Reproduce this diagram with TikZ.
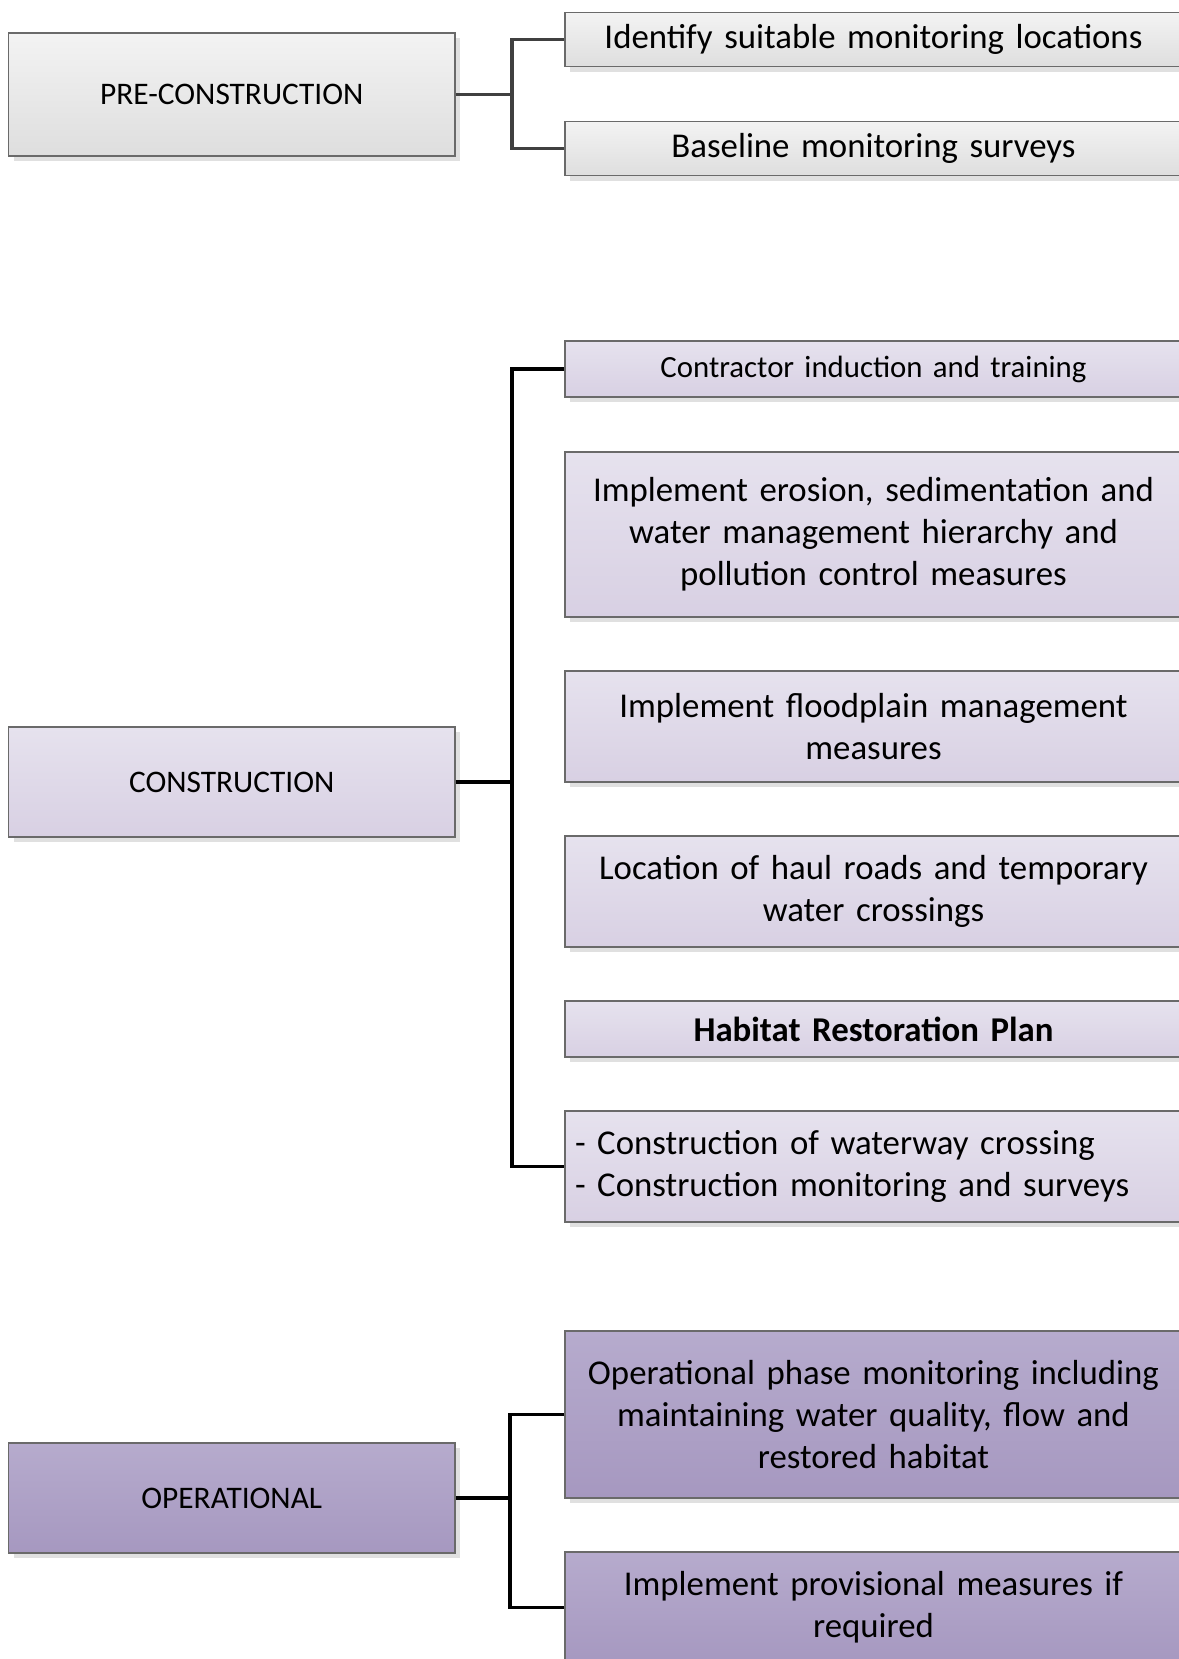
\documentclass[tikz,border=0pt]{standalone}
\usepackage{fontspec}
\setmainfont{Carlito}
\usetikzlibrary{shadows}

\definecolor{pretop}{HTML}{F3F3F3}
\definecolor{prebot}{HTML}{DEDEDE}
\definecolor{contop}{HTML}{E6E2EE}
\definecolor{conbot}{HTML}{D8D0E3}
\definecolor{optop}{HTML}{B6ABCD}
\definecolor{opbot}{HTML}{A698C0}
\definecolor{boxline}{HTML}{6A6A6A}

\tikzset{
  phase/.style={draw=boxline, line width=0.6pt, minimum width=223.25pt,
    inner sep=0pt, font=\fontsize{15.7}{19}\selectfont,
    drop shadow={shadow xshift=2.5pt, shadow yshift=-2.5pt, fill=black!12, opacity=1}},
  task/.style={draw=boxline, line width=0.6pt, text width=298.5pt, inner xsep=5pt,
    inner ysep=0pt, align=center, font=\fontsize{17.4}{21}\selectfont,
    drop shadow={shadow xshift=2.5pt, shadow yshift=-2.5pt, fill=black!12, opacity=1}},
  pre/.style={top color=pretop, bottom color=prebot},
  con/.style={top color=contop, bottom color=conbot},
  op/.style={top color=optop, bottom color=opbot},
  link/.style={line width=1.6pt, line join=miter}
}

\begin{document}
\begin{tikzpicture}[x=0.5pt, y=-0.5pt]
  \useasboundingbox (0,0) rectangle (1178,1659);

  % Pre-construction
  \node[phase, pre, minimum height=61.5pt] (pre) at (231.75,94.5) {PRE-CONSTRUCTION};
  \node[task, pre, minimum height=27pt] (a1) at (873.5,39.7) {Identify suitable monitoring locations};
  \node[task, pre, minimum height=27pt] (a2) at (873.5,148.7) {Baseline monitoring surveys};

  % Construction
  \node[phase, con, minimum height=55pt] (con) at (231.75,782) {CONSTRUCTION};
  \node[task, con, minimum height=28pt, font=\fontsize{15.4}{19}\selectfont] (c1) at (873.5,369) {Contractor induction and training};
  \node[task, con, minimum height=82.5pt] (c2) at (873.5,534.5) {Implement erosion, sedimentation and\\ water management hierarchy and\\ pollution control measures};
  \node[task, con, minimum height=55.5pt] (c3) at (873.5,726.5) {Implement floodplain management\\ measures};
  \node[task, con, minimum height=55.5pt] (c4) at (873.5,891.5) {Location of haul roads and temporary\\ water crossings};
  \node[task, con, minimum height=28pt] (c5) at (873.5,1029) {\textbf{Habitat Restoration Plan}};
  \node[task, con, minimum height=55.5pt, align=left] (c6) at (873.5,1166.5) {- Construction of waterway crossing\\- Construction monitoring and surveys};

  % Operational
  \node[phase, op, minimum height=55pt] (op) at (231.75,1498) {OPERATIONAL};
  \node[task, op, minimum height=83.5pt] (o1) at (873.5,1414.5) {Operational phase monitoring including\\ maintaining water quality, flow and\\ restored habitat};
  \node[task, op, minimum height=55.5pt] (o2) at (873.5,1607.5) {Implement provisional measures if\\ required};

  % Junctions
  \coordinate (prej) at (512,94.5);
  \coordinate (conj) at (512,782);
  \coordinate (opj) at (510,1498);

  \draw[link, black!75] (pre.east) -- (prej);
  \draw[link, black!75] (a1.west) -| (prej) |- (a2.west);
  \draw[link] (con.east) -- (conj);
  \draw[link] (c1.west) -| (conj) |- (c6.west);
  \draw[link] (op.east) -- (opj);
  \draw[link] (o1.west) -| (opj) |- (o2.west);
\end{tikzpicture}
\end{document}
